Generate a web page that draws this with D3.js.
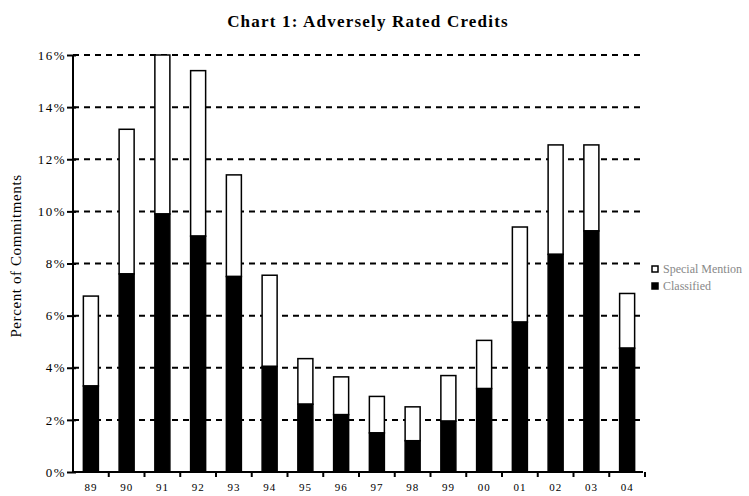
<!DOCTYPE html>
<html>
<head>
<meta charset="utf-8">
<script src="https://cdn.jsdelivr.net/npm/d3@7"></script>
<style>
  body { margin: 0; background: #fff; }
  svg { display: block; font-family: "Liberation Serif", "DejaVu Serif", serif; }
</style>
</head>
<body>
<svg id="chart" width="749" height="496"></svg>
<script>
// values (percent of commitments)
const years = ["89", "90", "91", "92", "93", "94", "95", "96", "97", "98", "99", "00", "01", "02", "03", "04"];
const classified = [3.3, 7.6, 9.9, 9.05, 7.5, 4.05, 2.6, 2.2, 1.5, 1.2, 1.95, 3.2, 5.75, 8.35, 9.25, 4.75];
const specialMention = [3.45, 5.55, 6.1, 6.35, 3.9, 3.5, 1.75, 1.45, 1.4, 1.3, 1.75, 1.85, 3.65, 4.2, 3.3, 2.1];
const yTicks = [0, 2, 4, 6, 8, 10, 12, 14, 16];
const seriesNames = ["Special Mention", "Classified"];

const svg = d3.select("#chart");
const plotLeft = 73, plotRight = 645, plotTop = 55, plotBottom = 472;

const x = d3.scaleBand()
    .domain(years)
    .range([plotLeft, plotRight])
    .paddingInner(0.58)
    .paddingOuter(0.29);

const y = d3.scaleLinear().domain([0, 16]).range([plotBottom, plotTop]);

// title
svg.append("text")
    .attr("x", 368)
    .attr("y", 27)
    .attr("text-anchor", "middle")
    .style("font-size", "17px")
    .style("font-weight", "bold")
    .style("letter-spacing", "1.2px")
    .text("Chart 1: Adversely Rated Credits");

// dashed gridlines
svg.append("g")
    .selectAll("line")
    .data(yTicks.filter(d => d > 0))
    .enter().append("line")
    .attr("x1", plotLeft)
    .attr("x2", 643)
    .attr("y1", d => y(d))
    .attr("y2", d => y(d))
    .attr("stroke", "#000")
    .attr("stroke-width", 2)
    .attr("stroke-dasharray", "6,5");

// stacked bars
const rows = years.map((yr, i) => ({ year: yr, c: classified[i], s: specialMention[i] }));
const bars = svg.append("g");

bars.selectAll(".sm")
    .data(rows)
    .enter().append("rect")
    .attr("class", "sm")
    .attr("x", d => x(d.year))
    .attr("width", x.bandwidth())
    .attr("y", d => y(d.c + d.s))
    .attr("height", d => y(d.c) - y(d.c + d.s))
    .attr("fill", "#fff")
    .attr("stroke", "#000")
    .attr("stroke-width", 1.5);

bars.selectAll(".cl")
    .data(rows)
    .enter().append("rect")
    .attr("class", "cl")
    .attr("x", d => x(d.year))
    .attr("width", x.bandwidth())
    .attr("y", d => y(d.c))
    .attr("height", d => y(0) - y(d.c))
    .attr("fill", "#000")
    .attr("stroke", "#000")
    .attr("stroke-width", 1.5);

// y axis
const yAxis = d3.axisLeft(y)
    .tickValues(yTicks)
    .tickSize(5)
    .tickPadding(2)
    .tickFormat(d => d + "%");

const gy = svg.append("g")
    .attr("transform", `translate(${plotLeft},0)`)
    .call(yAxis);
gy.select(".domain").attr("stroke-width", 2).attr("d", `M0,${plotTop}V${plotBottom}`);
gy.selectAll(".tick line").attr("stroke-width", 2).attr("x2", -6).attr("x1", 3);
gy.selectAll(".tick text")
    .style("font-size", "13px")
    .style("letter-spacing", "1.5px")
    .style("font-family", "Liberation Serif, serif")
    .attr("x", -7);

// x axis
const xAxis = d3.axisBottom(x).tickSize(0).tickPadding(11);
const gx = svg.append("g")
    .attr("transform", `translate(0,${plotBottom})`)
    .call(xAxis);
gx.select(".domain").attr("stroke-width", 2).attr("d", `M${plotLeft},0H643`);
gx.selectAll(".tick text")
    .style("font-size", "11px")
    .style("letter-spacing", "1px")
    .style("font-family", "Liberation Serif, serif");

// tick marks between categories
gx.append("g")
    .selectAll("line")
    .data(years)
    .enter().append("line")
    .attr("x1", d => x(d) + x.bandwidth() / 2 + x.step() / 2)
    .attr("x2", d => x(d) + x.bandwidth() / 2 + x.step() / 2)
    .attr("y1", 0)
    .attr("y2", 5)
    .attr("stroke", "#000")
    .attr("stroke-width", 2);

// y axis title
svg.append("text")
    .attr("transform", `translate(21,256) rotate(-90)`)
    .attr("text-anchor", "middle")
    .style("font-size", "15px")
    .style("letter-spacing", "0.6px")
    .text("Percent of Commitments");

// legend
const legend = svg.append("g").attr("transform", "translate(652,266)");
seriesNames.forEach((name, i) => {
    const row = legend.append("g").attr("transform", `translate(0,${i * 17})`);
    row.append("rect")
        .attr("width", 6)
        .attr("height", 6)
        .attr("fill", i === 0 ? "#fff" : "#000")
        .attr("stroke", "#000")
        .attr("stroke-width", 1.5);
    row.append("text")
        .attr("x", 11)
        .attr("y", 7)
        .attr("fill", "#888")
        .style("font-size", "12px")
        .text(name);
});
</script>
</body>
</html>
